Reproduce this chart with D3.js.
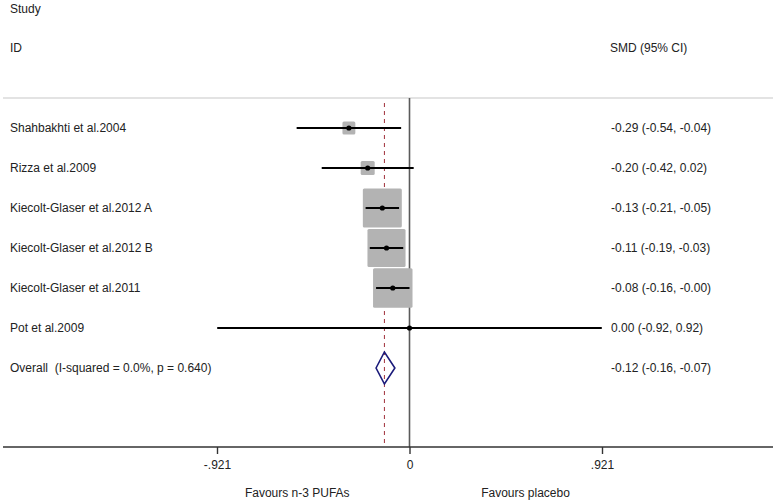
<!DOCTYPE html>
<html><head><meta charset="utf-8">
<script src="https://cdn.jsdelivr.net/npm/d3@7"></script>
<style>html,body{margin:0;padding:0;background:#fff;} svg{display:block;font-family:"Liberation Sans",Arial,sans-serif;} text{white-space:pre;}</style>
</head><body><div id="chart"></div>
<script>
const studies = ["Shahbakhti et al.2004","Rizza et al.2009","Kiecolt-Glaser et al.2012 A","Kiecolt-Glaser et al.2012 B","Kiecolt-Glaser et al.2011","Pot et al.2009"];
const smd   = [-0.29,-0.20,-0.13,-0.11,-0.08,0.00];
const lower = [-0.54,-0.42,-0.21,-0.19,-0.16,-0.92];
const upper = [-0.04, 0.02,-0.05,-0.03,-0.00, 0.92];
const weights = [3.4,4.0,31.0,29.6,31.8,0.2];
const ciLabels = ["-0.29 (-0.54, -0.04)","-0.20 (-0.42, 0.02)","-0.13 (-0.21, -0.05)","-0.11 (-0.19, -0.03)","-0.08 (-0.16, -0.00)","0.00 (-0.92, 0.92)"];
const overallLabel = "Overall  (I-squared = 0.0%, p = 0.640)";
const overall = {est:-0.12, lo:-0.16, hi:-0.07};
const overallCI = "-0.12 (-0.16, -0.07)";
const tickValues = [-0.921, 0, 0.921];
const tickLabels = ["-.921","0",".921"];
const favourLabels = ["Favours n-3 PUFAs","Favours placebo"];

const W = 777, H = 502;
const svg = d3.select("#chart").append("svg").attr("width",W).attr("height",H);
const x = d3.scaleLinear().domain([-0.921,0.921]).range([217,602]);
const rowNames = studies.concat([overallLabel]);
const y = d3.scalePoint().domain(d3.range(rowNames.length)).range([128,368]);
const axisY = 447, topY = 98;
const fs = "12px";

// headers
svg.append("text").attr("x",10).attr("y",13).attr("font-size",fs).attr("fill","#222").text("Study");
svg.append("text").attr("x",10).attr("y",52).attr("font-size",fs).attr("fill","#222").text("ID");
svg.append("text").attr("x",610).attr("y",52).attr("font-size",fs).attr("fill","#222").text("SMD (95% CI)");
svg.append("line").attr("x1",3).attr("x2",773).attr("y1",topY).attr("y2",topY).attr("stroke","#c8c8c8").attr("stroke-width",1.2);

// null line
svg.append("line").attr("x1",x(0)).attr("x2",x(0)).attr("y1",topY).attr("y2",axisY).attr("stroke","#5a5a5a").attr("stroke-width",1.6);
// overall dashed line
svg.append("line").attr("x1",x(overall.est)).attr("x2",x(overall.est)).attr("y1",103).attr("y2",axisY)
  .attr("stroke","#a0303a").attr("stroke-width",1).attr("stroke-dasharray","4,4");

const boxScale = d3.scaleSqrt().domain([0,1]).range([0,7.0]);
const rows = studies.map((s,i)=>({i,s,est:smd[i],lo:lower[i],hi:upper[i],w:weights[i],ci:ciLabels[i]}));

// boxes
svg.selectAll("rect.box").data(rows).enter().append("rect").attr("class","box")
  .attr("x",d=>x(d.est)-boxScale(d.w)/2).attr("y",d=>y(d.i)-boxScale(d.w)/2)
  .attr("width",d=>boxScale(d.w)).attr("height",d=>boxScale(d.w)).attr("rx",1.5).attr("fill","#b3b3b3");
// CI lines
svg.selectAll("line.ci").data(rows).enter().append("line").attr("class","ci")
  .attr("x1",d=>x(d.lo)).attr("x2",d=>x(d.hi)).attr("y1",d=>y(d.i)).attr("y2",d=>y(d.i))
  .attr("stroke","#000").attr("stroke-width",1.8);
// points
svg.selectAll("circle.pt").data(rows).enter().append("circle").attr("class","pt")
  .attr("cx",d=>x(d.est)).attr("cy",d=>y(d.i)).attr("r",2.6).attr("fill","#000");
// labels
svg.selectAll("text.study").data(rowNames).enter().append("text").attr("class","study")
  .attr("x",10).attr("y",(d,i)=>y(i)+4).attr("font-size",fs).attr("fill","#222").text(d=>d);
svg.selectAll("text.cilab").data(ciLabels.concat([overallCI])).enter().append("text").attr("class","cilab")
  .attr("x",611).attr("y",(d,i)=>y(i)+4).attr("font-size",fs).attr("fill","#222").text(d=>d);

// diamond
const oy = y(studies.length), dh = 16;
svg.append("path").attr("d",`M${x(overall.lo)},${oy} L${x(overall.est)},${oy-dh} L${x(overall.hi)},${oy} L${x(overall.est)},${oy+dh} Z`)
  .attr("fill","none").attr("stroke","#1a1a7a").attr("stroke-width",1.6);

// axis
svg.append("line").attr("x1",3).attr("x2",773).attr("y1",axisY).attr("y2",axisY).attr("stroke","#333").attr("stroke-width",1.6);
const axis = d3.axisBottom(x).tickValues(tickValues).tickFormat((d,i)=>tickLabels[i]).tickSize(7).tickPadding(6);
const ag = svg.append("g").attr("transform",`translate(0,${axisY})`).call(axis);
ag.select(".domain").remove();
ag.selectAll(".tick line").attr("stroke","#333").attr("stroke-width",1.4);
ag.selectAll(".tick text").attr("font-size",fs).attr("fill","#222").attr("font-family","Liberation Sans, Arial, sans-serif");

svg.append("text").attr("x",x(-0.537)).attr("y",497).attr("text-anchor","middle").attr("font-size",fs).attr("fill","#222").text(favourLabels[0]);
svg.append("text").attr("x",x(0.555)).attr("y",497).attr("text-anchor","middle").attr("font-size",fs).attr("fill","#222").text(favourLabels[1]);
</script></body></html>
